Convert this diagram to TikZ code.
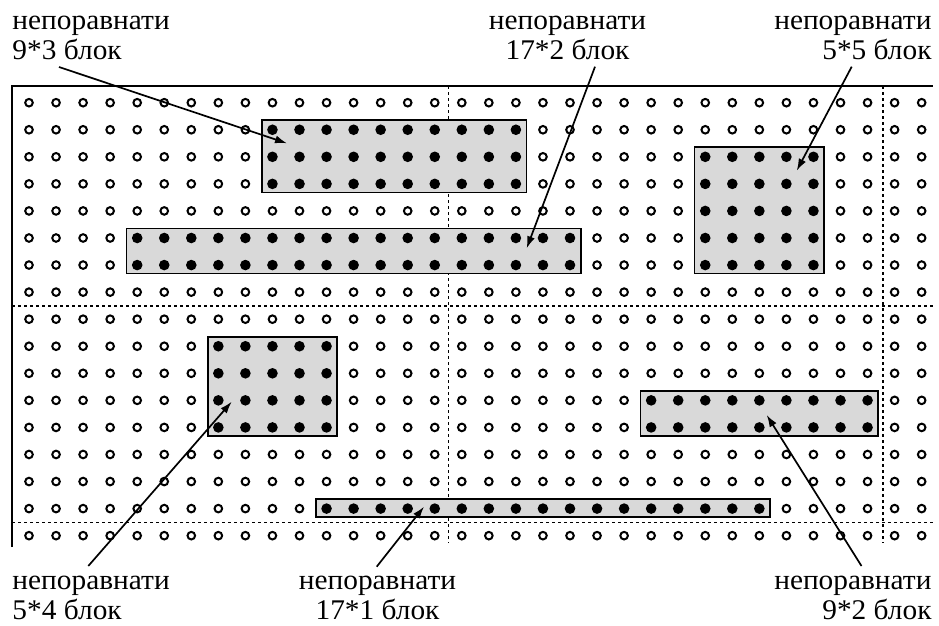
\documentclass[tikz,border=0pt]{standalone}
\usepackage{fontspec}
\setmainfont{Liberation Serif}[FakeStretch=1.03]
\usetikzlibrary{arrows.meta,fit}
\newcommand\myblock[5]{%
  \path ({29+27.05*#2-10.7},{102.7+27.06*#3-9.5}) coordinate (#1a)
        ({29+27.05*#4+10.7},{102.7+27.06*#5+8.5}) coordinate (#1b);
  \node[blockbox, fit=(#1a)(#1b)] (#1) {};
  \foreach \i in {#2,...,#4} \foreach \j in {#3,...,#5}
    \fill ({29+27.05*\i},{102.7+27.06*\j}) circle (5.3pt);
}
\begin{document}
\begin{tikzpicture}[x=1pt,y=-1pt,
  blockbox/.style={draw=black,line width=1.7pt,fill=black!15,inner sep=0pt,rectangle},
  border/.style={line width=2.4pt},
  sep/.style={line width=1.6pt,dash pattern=on 3pt off 3pt},
  lbl/.style={inner sep=0pt,font=\fontsize{28.5}{30}\selectfont},
  pointer/.style={line width=1.7pt,-{Latex[length=12pt,width=8pt]}}]
\useasboundingbox (0,0) rectangle (939,626);
% open holes
\foreach \i in {0,...,33} \foreach \j in {0,...,16}
  \draw[line width=2pt] ({29+27.05*\i},{102.7+27.06*\j}) circle (3.8pt);
% frame and separators
\draw[border] (12,547) -- (12,86) -- (933,86);
\draw[sep] (448.3,86) -- (448.3,543);
\draw[sep] (882.7,86) -- (882.7,543);
\draw[sep] (12,305.7) -- (935,305.7);
\draw[sep] (12,522.3) -- (935,522.3);
% blocks
\myblock{b93}{9}{1}{18}{3}
\myblock{b172}{4}{5}{20}{6}
\myblock{b55}{25}{2}{29}{6}
\myblock{b54}{7}{9}{11}{12}
\myblock{b92}{23}{11}{31}{12}
\myblock{b171}{11}{15}{27}{15}
% labels (base anchor = baseline of the last line)
\node[lbl,anchor=base west,align=left] (l93) at (12.3,59.3) {непоравнати\\9*3 блок};
\node[lbl,anchor=base,align=center] (l172) at (567.5,59.3) {непоравнати\\17*2 блок};
\node[lbl,anchor=base east,align=right] (l55) at (931.7,59.3) {непоравнати\\5*5 блок};
\node[lbl,anchor=base west,align=left] (l54) at (12.3,619.3) {непоравнати\\5*4 блок};
\node[lbl,anchor=base,align=center] (l171) at (377.5,619.3) {непоравнати\\17*1 блок};
\node[lbl,anchor=base east,align=right] (l92) at (931.7,619.3) {непоравнати\\9*2 блок};
% pointers
\coordinate (s93) at (59,67);     \coordinate (t93) at (287,143.3);
\coordinate (s172) at (595,66.7); \coordinate (t172) at (526.7,248.3);
\coordinate (s55) at (851.7,66.7);\coordinate (t55) at (796.7,170.7);
\coordinate (s54) at (88.3,566);  \coordinate (t54) at (231.7,401.7);
\coordinate (s171) at (376.7,566.7); \coordinate (t171) at (424,506.7);
\coordinate (s92) at (861.5,566); \coordinate (t92) at (766.7,415);
\foreach \n in {93,172,55,54,171,92}
  \draw[pointer] (s\n) -- (t\n);
\end{tikzpicture}
\end{document}
